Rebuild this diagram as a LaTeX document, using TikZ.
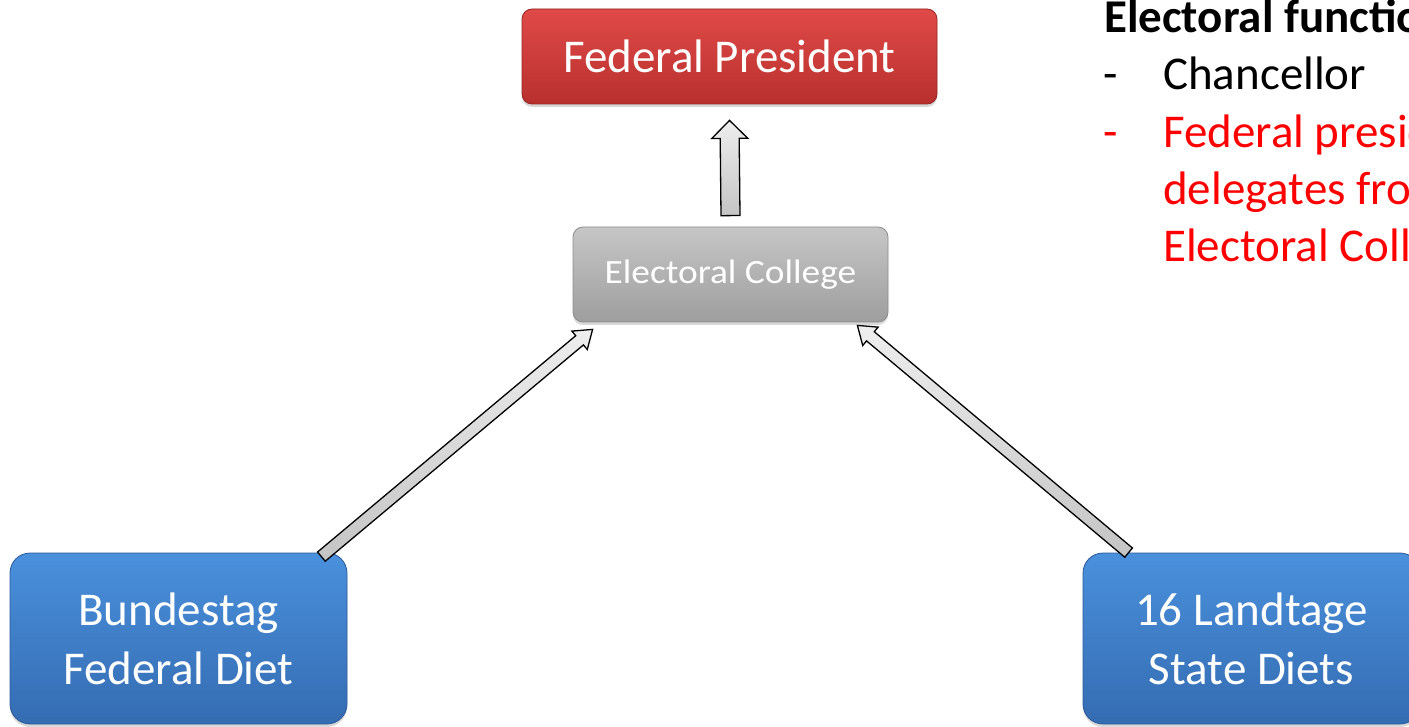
\documentclass[tikz,border=0pt]{standalone}
\usepackage{fontspec}
\setmainfont{Carlito}
\usetikzlibrary{calc,shadows}
\definecolor{redtop}{RGB}{224,74,72}
\definecolor{redbot}{RGB}{184,48,46}
\definecolor{redline}{RGB}{150,38,36}
\definecolor{greytop}{RGB}{198,198,198}
\definecolor{greybot}{RGB}{158,158,158}
\definecolor{greyline}{RGB}{140,140,140}
\definecolor{bluetop}{RGB}{74,144,220}
\definecolor{bluebot}{RGB}{52,108,178}
\definecolor{blueline}{RGB}{42,90,155}
\definecolor{listred}{RGB}{255,0,0}
\definecolor{arrtop}{RGB}{238,238,238}
\definecolor{arrbot}{RGB}{196,196,196}
\newcommand\blockarr[5]{%
  \coordinate (bah) at ($(#2)!#5!(#1)$);
  \path[arrowbox] ($(#1)!#3!90:(#2)$) -- ($(bah)!#3!90:(#2)$) -- ($(bah)!#4!90:(#2)$)
    -- (#2) -- ($(bah)!#4!-90:(#2)$) -- ($(bah)!#3!-90:(#2)$) -- ($(#1)!#3!-90:(#2)$) -- cycle;}
\begin{document}
\begin{tikzpicture}[x=1pt,y=-1pt,
  box/.style={rectangle, rounded corners=10pt, line width=0.8pt, text=white, inner sep=0pt,
    drop shadow={opacity=0.3, shadow xshift=0pt, shadow yshift=-3pt}},
  redbox/.style={box, draw=redline, top color=redtop, bottom color=redbot},
  greybox/.style={box, draw=greyline, top color=greytop, bottom color=greybot},
  bluebox/.style={box, rounded corners=20pt, draw=blueline, top color=bluetop, bottom color=bluebot, align=center},
  arrowbox/.style={draw=black, line width=1.3pt, line join=miter, top color=arrtop, bottom color=arrbot},
  listtxt/.style={inner sep=0pt, anchor=base west, font=\fontsize{47}{56}\selectfont}]
\useasboundingbox (0,0) rectangle (1409,727);
\clip (0,0) rectangle (1409,727);
\fill[white] (0,0) rectangle (1409,727);

\node[redbox, minimum width=415pt, minimum height=95pt, font=\fontsize{47}{52}\selectfont]
  (pres) at (729.5,56.5) {Federal President};
\node[greybox, minimum width=315pt, minimum height=95pt, font=\fontsize{34}{38}\selectfont]
  (college) at (730.5,274.5) {\raisebox{-3pt}{\scalebox{1.1}[1]{Electoral College}}};
\node[bluebox, minimum width=337pt, minimum height=171pt, font=\fontsize{47}{59}\selectfont]
  (bund) at (178.5,638.5) {Bundestag\\Federal Diet};
\node[bluebox, minimum width=337pt, minimum height=171pt, font=\fontsize{47}{59}\selectfont]
  (land) at (1251.5,638.5) {16 Landtage\\State Diets};

\coordinate (upT) at ($(college.north)+(0,-11)$);
\coordinate (upP) at ($(pres.south)+(0,16)$);
\coordinate (lT) at ($(bund.north east)+(-26,4)$);
\coordinate (lP) at ($(college.south west)+(20,7)$);
\coordinate (rT) at ($(land.north west)+(46,0)$);
\coordinate (rP) at ($(college.south east)+(-31,3)$);
\blockarr{upT}{upP}{9.5pt}{18pt}{18pt}
\blockarr{lT}{lP}{6pt}{12pt}{17pt}
\blockarr{rT}{rP}{6pt}{12pt}{17pt}

\node[inner sep=0pt, anchor=base west, font=\bfseries\fontsize{47}{56}\selectfont] (head) at (1104,33) {Electoral functions};
\node[listtxt] (d1) at (1103,90) {-};
\node[listtxt] (l1) at (1163,90) {Chancellor};
\node[listtxt, text=listred] (d2) at (1103,148) {-};
\node[listtxt, text=listred] (l2) at (1163,148) {Federal president};
\node[listtxt, text=listred] (l3) at (1163,205) {delegates from};
\node[listtxt, text=listred] (l4) at (1163,262) {Electoral College};
\end{tikzpicture}
\end{document}
